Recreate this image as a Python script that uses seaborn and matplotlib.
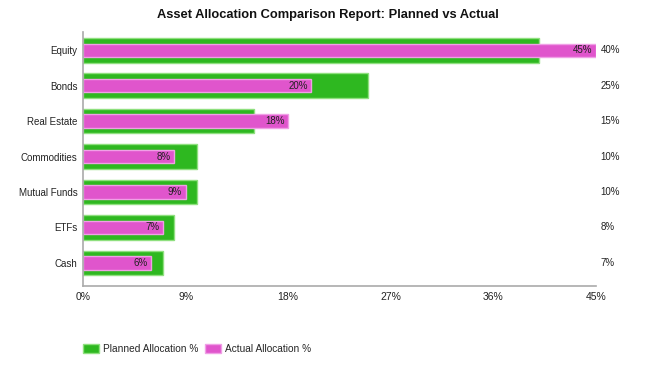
import matplotlib
matplotlib.use("Agg")
import matplotlib.pyplot as plt
import seaborn as sns
import pandas as pd
from matplotlib.patches import Patch
from matplotlib.ticker import FuncFormatter

categories = ["Equity", "Bonds", "Real Estate", "Commodities", "Mutual Funds", "ETFs", "Cash"]
planned = [40, 25, 15, 10, 10, 8, 7]
actual = [45, 20, 18, 8, 9, 7, 6]
xticks = [0, 9, 18, 27, 36, 45]

green = "#2eb820"
green_edge = "#8fe07f"
pink = "#e055cc"
pink_edge = "#f0a0e6"

sns.set_style("white")
plt.rcParams["font.family"] = ["Liberation Sans", "DejaVu Sans"]

df = pd.DataFrame({"category": categories, "planned": planned, "actual": actual})

fig = plt.figure(figsize=(6.5, 3.66), dpi=100)
ax = fig.add_axes([83/650, 1-286/366, (596-83)/650, (286-32)/366])

sns.barplot(data=df, x="planned", y="category", orient="h", color=green, width=0.7,
            edgecolor=green_edge, linewidth=1, ax=ax, saturation=1)
sns.barplot(data=df, x="actual", y="category", orient="h", color=pink, width=0.37,
            edgecolor=pink_edge, linewidth=1, ax=ax, saturation=1)

ax.set_xlim(0, 45)
ax.set_ylim(6.65, -0.51)
ax.set_xticks(xticks)
ax.xaxis.set_major_formatter(FuncFormatter(lambda v, p: f"{v:.0f}%"))
ax.set_xlabel("")
ax.set_ylabel("")
ax.tick_params(axis="both", length=3, color="#999999", colors="#222222")
ax.tick_params(axis="x", labelsize=7.5, pad=1.5)
ax.tick_params(axis="y", labelsize=7, pad=1)
for s in ["top", "right"]:
    ax.spines[s].set_visible(False)
for s in ["left", "bottom"]:
    ax.spines[s].set_color("#aaaaaa")
    ax.spines[s].set_linewidth(1.2)

for i, (p, a) in enumerate(zip(planned, actual)):
    ax.text(a - 0.3, i, f"{a}%", ha="right", va="center", fontsize=7, color="#222222")
    ax.text(45.4, i, f"{p}%", ha="left", va="center", fontsize=7, color="#222222", clip_on=False)

fig.suptitle("Asset Allocation Comparison Report: Planned vs Actual", x=0.505, y=0.975,
             fontsize=9.3, fontweight="bold", color="#111111")

handles = [Patch(facecolor=green, edgecolor=green_edge, label="Planned Allocation %"),
           Patch(facecolor=pink, edgecolor=pink_edge, label="Actual Allocation %")]
fig.legend(handles=handles, loc="center left", bbox_to_anchor=(74/650, 1-349/366), ncol=2,
           frameon=False, fontsize=7.3, handlelength=1.6, handleheight=0.9, handletextpad=0.4,
           columnspacing=0.6)

fig.savefig("out.png", dpi=100)
